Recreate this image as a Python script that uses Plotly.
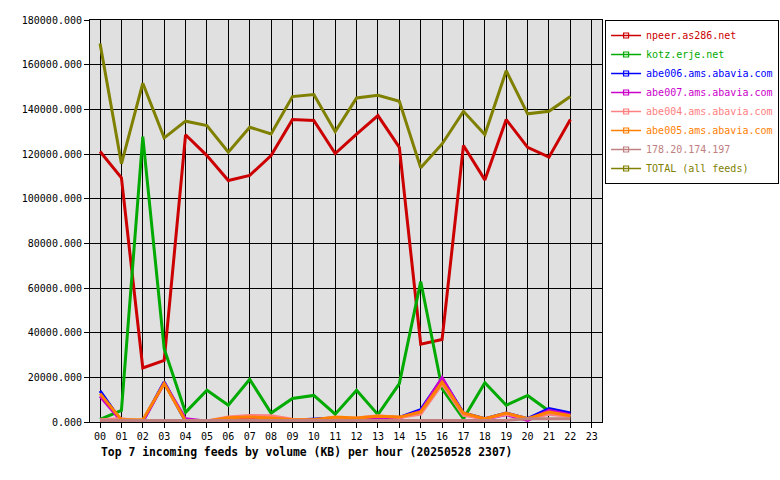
import plotly.graph_objects as go

hours = list(range(23))
tick_labels = ["%02d" % h for h in range(24)]

series_names = ["npeer.as286.net", "kotz.erje.net", "abe006.ams.abavia.com",
                "abe007.ams.abavia.com", "abe004.ams.abavia.com",
                "abe005.ams.abavia.com", "178.20.174.197", "TOTAL (all feeds)"]
series_colors = ["#cc0000", "#00aa00", "#0000ff", "#cc00cc", "#ff8080",
                 "#ff8000", "#c08080", "#808000"]

npeer = [121100, 109300, 24200, 27600, 128600, 119300, 108100, 110400, 119300,
         135400, 135000, 120200, 128900, 137200, 123000, 34800, 36900, 123800,
         108400, 135400, 123000, 118600, 135400]
kotz = [1200, 5200, 127800, 32800, 4300, 14200, 7500, 19100, 4000, 10500, 11900,
        3500, 14200, 3300, 17200, 62900, 14900, 1500, 17600, 7500, 11900, 4900, 2600]
abe006 = [13900, 300, 200, 17900, 300, 300, 1500, 1500, 1600, 800, 1200, 1800,
          1500, 2200, 2000, 5500, 19500, 4000, 1500, 4000, 1500, 6000, 4000]
abe007 = [11500, 300, 200, 17500, 1500, 300, 1500, 1500, 1500, 700, 800, 1800,
          1400, 2000, 1800, 4800, 19900, 3500, 1200, 3300, 700, 5200, 3300]
abe004 = [1000, 1500, 300, 500, 300, 500, 2200, 2900, 2800, 1200, 900, 1500,
          1800, 2800, 2000, 3500, 17000, 3000, 1500, 3500, 1500, 3500, 2500]
abe005 = [12700, 1000, 1000, 17200, 500, 500, 1900, 2200, 1800, 1000, 1000, 2200,
          1800, 2600, 2200, 4500, 17900, 4000, 1500, 4000, 1500, 4500, 2800]
ip178 = [700, 700, 700, 700, 700, 700, 700, 700, 700, 700, 700, 700, 700, 700,
         700, 700, 700, 700, 700, 700, 1500, 1500, 1500]
total = [169500, 115600, 151700, 127200, 134700, 132700, 120800, 132000, 129000,
         145700, 146600, 130000, 145100, 146300, 143600, 113800, 124500, 139100,
         128700, 157300, 138000, 139100, 145700]

all_values = [npeer, kotz, abe006, abe007, abe004, abe005, ip178, total]
y_ticks = list(range(0, 180001, 20000))

fig = go.Figure()
for name, color, vals in zip(series_names, series_colors, all_values):
    fig.add_trace(go.Scatter(
        x=hours, y=vals, mode="lines", name=name, legendgroup=name,
        showlegend=False, line=dict(color=color, width=3),
        hoverinfo="x+y+name"))
for name, color in zip(series_names, series_colors):
    fig.add_trace(go.Scatter(
        x=[None], y=[None], mode="lines+markers", legendgroup=name,
        name='<span style="color:%s">%s</span>' % (color, name),
        line=dict(color=color, width=1.5),
        marker=dict(symbol="square-open", size=5, color=color, line=dict(width=1.2))))

mono = "DejaVu Sans Mono"
fig.update_layout(
    width=780, height=480,
    margin=dict(l=90, r=178, t=20, b=58, autoexpand=False),
    paper_bgcolor="white", plot_bgcolor="#e0e0e0",
    font=dict(family=mono, size=10, color="black"),
    showlegend=True,
    legend=dict(x=1.006, y=1.0, xanchor="left", yanchor="top",
                bgcolor="white", bordercolor="black", borderwidth=1,
                font=dict(family=mono, size=10), itemwidth=30,
                tracegroupgap=0),
    xaxis=dict(range=[-0.47, 23.48], tickmode="array",
               tickvals=list(range(24)), ticktext=tick_labels,
               showgrid=True, gridcolor="black", gridwidth=1,
               ticks="outside", ticklen=5, tickcolor="black",
               showline=True, linecolor="black", linewidth=1, mirror=True,
               zeroline=False, fixedrange=True, automargin=False),
    yaxis=dict(range=[0, 180000], tickmode="array", tickvals=y_ticks,
               tickformat=".3f",
               showgrid=True, gridcolor="black", gridwidth=1,
               ticks="outside", ticklen=5, tickcolor="black",
               showline=True, linecolor="black", linewidth=1, mirror=True,
               zeroline=False, fixedrange=True, automargin=False),
)
fig.add_annotation(
    text="<b>Top 7 incoming feeds by volume (KB) per hour (20250528 2307)</b>",
    xref="paper", yref="paper", x=0.017, y=-0.075, xanchor="left", yanchor="middle",
    showarrow=False, font=dict(family=mono, size=11.4, color="black"))

fig.write_html("out.html", config={"displayModeBar": False},
               post_script="document.body.style.margin='0';document.body.style.padding='0';")
